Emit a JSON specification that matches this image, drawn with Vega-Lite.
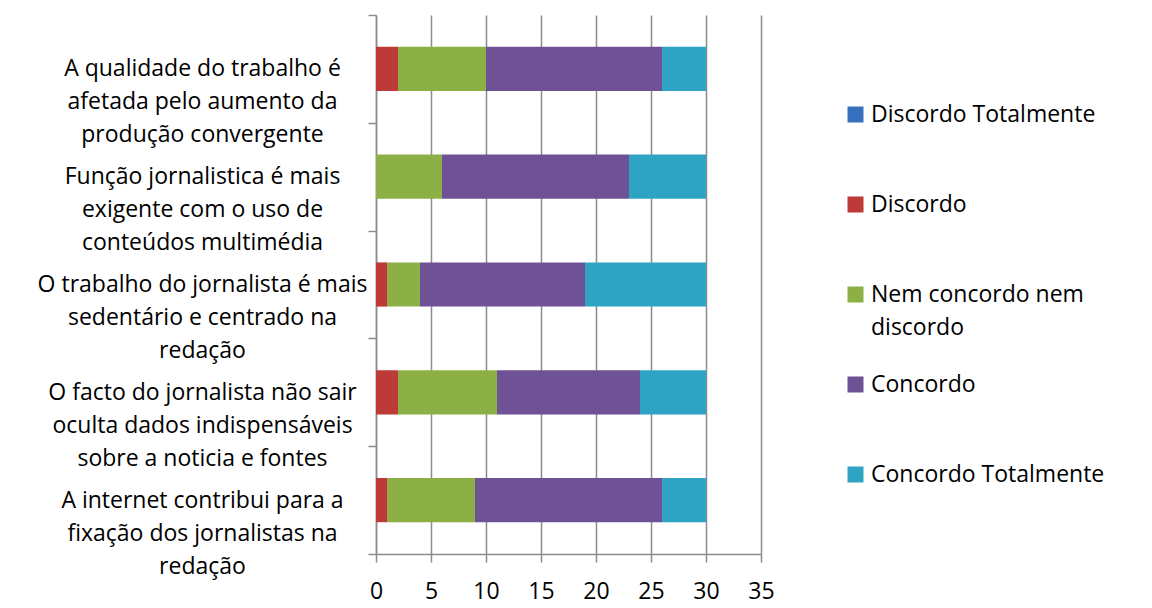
{
  "$schema": "https://vega.github.io/schema/vega-lite/v6.json",
  "width": 385,
  "height": 539,
  "autosize": {"type": "none"},
  "padding": {"left": 376, "top": 15, "right": 391, "bottom": 54},
  "background": "white",
  "data": {
    "values": [
      {"afirmacao": "A qualidade do trabalho é|afetada pelo aumento da|produção convergente", "resposta": "Discordo Totalmente", "n": 0},
      {"afirmacao": "A qualidade do trabalho é|afetada pelo aumento da|produção convergente", "resposta": "Discordo", "n": 2},
      {"afirmacao": "A qualidade do trabalho é|afetada pelo aumento da|produção convergente", "resposta": "Nem concordo nem discordo", "n": 8},
      {"afirmacao": "A qualidade do trabalho é|afetada pelo aumento da|produção convergente", "resposta": "Concordo", "n": 16},
      {"afirmacao": "A qualidade do trabalho é|afetada pelo aumento da|produção convergente", "resposta": "Concordo Totalmente", "n": 4},
      {"afirmacao": "Função jornalistica é mais|exigente com o uso de|conteúdos multimédia", "resposta": "Discordo Totalmente", "n": 0},
      {"afirmacao": "Função jornalistica é mais|exigente com o uso de|conteúdos multimédia", "resposta": "Discordo", "n": 0},
      {"afirmacao": "Função jornalistica é mais|exigente com o uso de|conteúdos multimédia", "resposta": "Nem concordo nem discordo", "n": 6},
      {"afirmacao": "Função jornalistica é mais|exigente com o uso de|conteúdos multimédia", "resposta": "Concordo", "n": 17},
      {"afirmacao": "Função jornalistica é mais|exigente com o uso de|conteúdos multimédia", "resposta": "Concordo Totalmente", "n": 7},
      {"afirmacao": "O trabalho do jornalista é mais|sedentário e centrado na|redação", "resposta": "Discordo Totalmente", "n": 0},
      {"afirmacao": "O trabalho do jornalista é mais|sedentário e centrado na|redação", "resposta": "Discordo", "n": 1},
      {"afirmacao": "O trabalho do jornalista é mais|sedentário e centrado na|redação", "resposta": "Nem concordo nem discordo", "n": 3},
      {"afirmacao": "O trabalho do jornalista é mais|sedentário e centrado na|redação", "resposta": "Concordo", "n": 15},
      {"afirmacao": "O trabalho do jornalista é mais|sedentário e centrado na|redação", "resposta": "Concordo Totalmente", "n": 11},
      {"afirmacao": "O facto do jornalista não sair|oculta dados indispensáveis|sobre a noticia e fontes", "resposta": "Discordo Totalmente", "n": 0},
      {"afirmacao": "O facto do jornalista não sair|oculta dados indispensáveis|sobre a noticia e fontes", "resposta": "Discordo", "n": 2},
      {"afirmacao": "O facto do jornalista não sair|oculta dados indispensáveis|sobre a noticia e fontes", "resposta": "Nem concordo nem discordo", "n": 9},
      {"afirmacao": "O facto do jornalista não sair|oculta dados indispensáveis|sobre a noticia e fontes", "resposta": "Concordo", "n": 13},
      {"afirmacao": "O facto do jornalista não sair|oculta dados indispensáveis|sobre a noticia e fontes", "resposta": "Concordo Totalmente", "n": 6},
      {"afirmacao": "A internet contribui para a|fixação dos jornalistas na|redação", "resposta": "Discordo Totalmente", "n": 0},
      {"afirmacao": "A internet contribui para a|fixação dos jornalistas na|redação", "resposta": "Discordo", "n": 1},
      {"afirmacao": "A internet contribui para a|fixação dos jornalistas na|redação", "resposta": "Nem concordo nem discordo", "n": 8},
      {"afirmacao": "A internet contribui para a|fixação dos jornalistas na|redação", "resposta": "Concordo", "n": 17},
      {"afirmacao": "A internet contribui para a|fixação dos jornalistas na|redação", "resposta": "Concordo Totalmente", "n": 4}
    ]
  },
  "transform": [
    {"calculate": "indexof(['Discordo Totalmente','Discordo','Nem concordo nem discordo','Concordo','Concordo Totalmente'], datum.resposta)", "as": "ordem"}
  ],
  "mark": {"type": "bar", "height": {"band": 0.41}},
  "encoding": {
    "y": {
      "field": "afirmacao",
      "type": "nominal",
      "sort": null,
      "title": null,
      "scale": {"paddingInner": 0, "paddingOuter": 0},
      "axis": {
        "labelExpr": "split(datum.label, '|')",
        "labelAlign": "center",
        "labelPadding": 166,
        "labelLineHeight": 33,
        "labelFont": "Open Sans",
        "labelFontSize": 23,
        "labelColor": "#000000",
        "labelLimit": 400,
        "tickBand": "extent",
        "tickSize": 8,
        "tickColor": "#8c8c8c",
        "tickWidth": 1.5,
        "domainColor": "#8c8c8c",
        "domainWidth": 1.5,
        "grid": false
      }
    },
    "x": {
      "field": "n",
      "type": "quantitative",
      "stack": "zero",
      "title": null,
      "scale": {"domain": [0, 35], "nice": false},
      "axis": {
        "values": [0, 5, 10, 15, 20, 25, 30, 35],
        "labelFont": "Open Sans",
        "labelFontSize": 23,
        "labelColor": "#000000",
        "labelPadding": 18,
        "labelFlush": false,
        "tickSize": 8,
        "tickColor": "#8c8c8c",
        "tickWidth": 1.5,
        "domainColor": "#8c8c8c",
        "domainWidth": 1.5,
        "grid": true,
        "gridColor": "#8c8c8c",
        "gridWidth": 1.5
      }
    },
    "color": {
      "field": "resposta",
      "type": "nominal",
      "title": null,
      "scale": {
        "domain": ["Discordo Totalmente", "Discordo", "Nem concordo nem discordo", "Concordo", "Concordo Totalmente"],
        "range": ["#3670BF", "#BD3A38", "#8CB045", "#6F5196", "#2FA3C4"]
      },
      "legend": {
        "orient": "none",
        "legendX": 468,
        "legendY": 88,
        "symbolType": "square",
        "symbolSize": 256,
        "symbolStrokeWidth": 0,
        "labelFont": "Open Sans",
        "labelFontSize": 23,
        "labelColor": "#000000",
        "labelOffset": 4,
        "labelLimit": 400,
        "labelExpr": "datum.label == 'Nem concordo nem discordo' ? ['Nem concordo nem', 'discordo'] : datum.label",
        "gridAlign": "all",
        "rowPadding": 33,
        "encode": {
          "labels": {
            "update": {
              "lineHeight": {"value": 33}
            }
          }
        }
      }
    },
    "order": {"field": "ordem", "type": "quantitative"}
  },
  "config": {
    "view": {"stroke": null}
  }
}
